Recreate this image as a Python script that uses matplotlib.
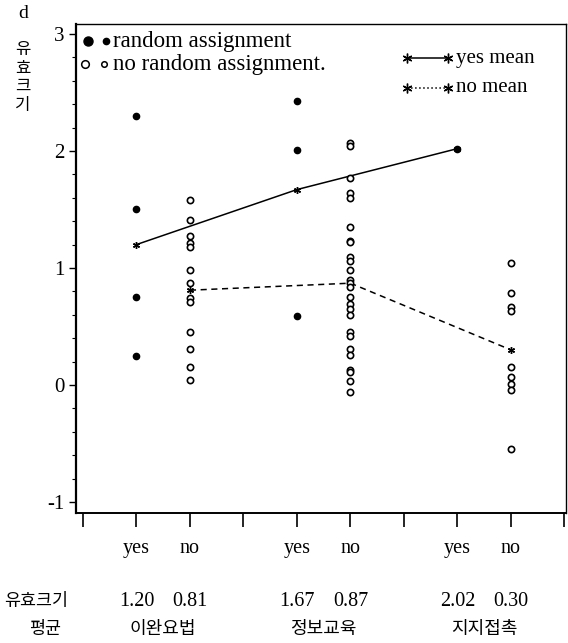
import matplotlib
matplotlib.use("Agg")
import matplotlib.pyplot as plt
import matplotlib.transforms as mtransforms
from matplotlib.ticker import MultipleLocator
import numpy as np

plt.rcParams['font.family'] = ['Liberation Serif', 'Noto Sans CJK KR']

# group layout: yes / no per intervention
pos_yes = [1, 4, 7]
pos_no = [2, 5, 8]
sub_labels = ['yes', 'no', 'yes', 'no', 'yes', 'no']
group_names = ['이완요법', '정보교육', '지지접촉']

# effect sizes
yes_1 = [2.30, 1.50, 0.75, 0.25]
no_1 = [1.58, 1.41, 1.27, 1.21, 1.18, 0.98, 0.87, 0.74, 0.71, 0.45, 0.31, 0.15, 0.04]
yes_2 = [2.43, 2.01, 0.59]
no_2 = [2.07, 2.04, 1.77, 1.64, 1.60, 1.35, 1.23, 1.22, 1.09, 1.06, 0.98, 0.90,
        0.87, 0.84, 0.75, 0.69, 0.65, 0.60, 0.45, 0.42, 0.31, 0.26, 0.13, 0.11,
        0.03, -0.06]
yes_3 = [2.02]
no_3 = [1.04, 0.79, 0.67, 0.63, 0.15, 0.07, 0.01, -0.04, -0.55]

yes_mean = [1.20, 1.67, 2.02]
no_mean = [0.81, 0.87, 0.30]
mean_labels = ['1.20', '0.81', '1.67', '0.87', '2.02', '0.30']

fig = plt.figure(figsize=(5.68, 6.43), dpi=100)
ax = fig.add_axes([76/568, 1-513/643, 490/568, 489/643])

yes_groups = [yes_1, yes_2, yes_3]
no_groups = [no_1, no_2, no_3]
for x, vals in zip(pos_yes, yes_groups):
    ax.plot([x]*len(vals), vals, 'o', color='black', ms=4.5, zorder=3)
for x, vals in zip(pos_no, no_groups):
    ax.plot([x]*len(vals), vals, 'o', mfc='white', mec='black', mew=1.2, ms=4.5, zorder=3)

# mean lines
ax.plot(pos_yes, yes_mean, '-', color='black', lw=1.1, marker=(6, 2, 0), ms=5)
ax.plot(pos_no, no_mean, color='black', lw=1.1, dashes=(4, 3), marker=(6, 2, 0), ms=5)

ax.set_xlim(-0.13, 9.03)
ax.set_ylim(-1.094, 3.085)
ax.set_xticks(np.arange(0, 10))
ax.set_xticklabels([])
ax.set_yticks([-1, 0, 1, 2, 3])
ax.set_yticklabels(['-1', '0', '1', '2', '3'], fontsize=15)
ax.yaxis.set_minor_locator(MultipleLocator(0.2))
ax.tick_params(axis='x', direction='out', length=10, width=1.2)
ax.tick_params(axis='y', which='major', direction='out', length=5, width=1.0, pad=3)
ax.tick_params(axis='y', which='minor', direction='out', length=3, width=0.8)
for s in ax.spines.values():
    s.set_linewidth(1.0)
ax.spines['left'].set_linewidth(1.6)
ax.spines['bottom'].set_linewidth(1.4)

# bottom category labels
trans = mtransforms.blended_transform_factory(ax.transData, ax.transAxes)
all_pos = [1, 2, 4, 5, 7, 8]
for x, lab, m in zip(all_pos, sub_labels, mean_labels):
    ax.text(x, -0.072, lab, transform=trans, ha='center', va='center', fontsize=14.5)
    ax.text(x, -0.18, m, transform=trans, ha='center', va='center', fontsize=14.5)
for i, name in enumerate(group_names):
    ax.text((pos_yes[i] + pos_no[i]) / 2, -0.237, name, transform=trans,
            ha='center', va='center', fontsize=13, family=['Noto Sans CJK KR'])
fig.text(36/568, 1-601/643, '유효크기', ha='center', va='center', fontsize=12.5,
         family=['Noto Sans CJK KR'])
fig.text(45/568, 1-629/643, '평균', ha='center', va='center', fontsize=12.5,
         family=['Noto Sans CJK KR'])

# y axis label
fig.text(23/568, 1-13/643, 'd', ha='center', va='center', fontsize=14)
fig.text(23/568, 1-41/643, '유\n효\n크\n기', ha='center', va='top', fontsize=12,
         linespacing=1.12, family=['Noto Sans CJK KR'])

# legends drawn by hand
ax.plot([0.024], [0.965], 'o', color='black', ms=6.5, transform=ax.transAxes, clip_on=False)
ax.plot([0.061], [0.965], 'o', color='black', ms=4.5, transform=ax.transAxes)
ax.text(0.076, 0.965, 'random assignment', transform=ax.transAxes, va='center', fontsize=16.5)
ax.plot([0.018], [0.918], 'o', mfc='white', mec='black', mew=1.1, ms=5.5, transform=ax.transAxes,
        clip_on=False)
ax.plot([0.058], [0.918], 'o', mfc='white', mec='black', mew=1.1, ms=4.0, transform=ax.transAxes)
ax.text(0.076, 0.918, 'no random assignment.', transform=ax.transAxes, va='center', fontsize=16.5)

ax.plot([0.676, 0.760], [0.930, 0.930], '-', color='black', lw=1.1, marker=(6, 2, 0), ms=7,
        transform=ax.transAxes)
ax.text(0.775, 0.930, 'yes mean', transform=ax.transAxes, va='center', fontsize=15)
ax.plot([0.676, 0.760], [0.870, 0.870], ':', color='black', lw=1.1, marker=(6, 2, 0), ms=7,
        transform=ax.transAxes)
ax.text(0.775, 0.870, 'no mean', transform=ax.transAxes, va='center', fontsize=15)

plt.savefig('out.png', dpi=100)
